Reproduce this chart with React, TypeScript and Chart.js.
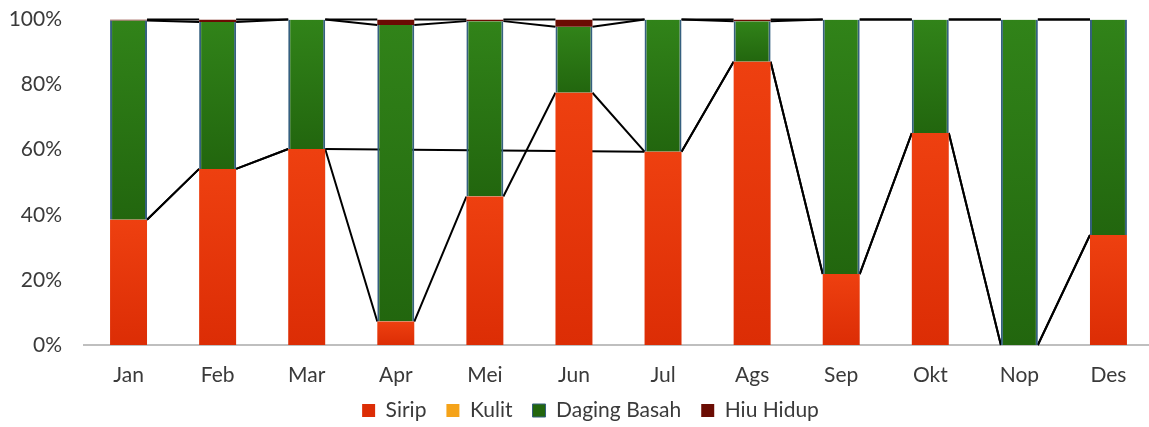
import React, { useEffect, useRef } from 'react';
import { Chart, registerables } from 'chart.js';

Chart.register(...registerables);

const months = ['Jan', 'Feb', 'Mar', 'Apr', 'Mei', 'Jun', 'Jul', 'Ags', 'Sep', 'Okt', 'Nop', 'Des'];
const sirip = [38.5, 54.1, 60.2, 7.2, 45.6, 77.5, 59.4, 87.0, 21.8, 65.1, 0, 33.8];
const kulit: (number | null)[] = [0, 0, 0, null, null, null, 0, 0, 0, 0, 0, 0];
const dagingBasah = [61.2, 45.1, 39.8, 91.1, 53.9, 20.3, 40.6, 12.5, 78.2, 34.9, 100, 66.2];
const hiuHidup = [0.3, 0.8, 0, 1.7, 0.5, 2.2, 0, 0.5, 0, 0, 0, 0];
const yTicks = [0, 20, 40, 60, 80, 100];

const FONT = 'Lato, "Noto Sans", sans-serif';
const TEXT = '#3A3A3A';

function segGradient(c: any, top: string, bottom: string) {
  const chart = c.chart;
  if (!chart.chartArea || c.type !== 'data') return top;
  const ys = chart.scales.y;
  const i = c.dataIndex;
  const k = c.datasetIndex;
  let start = 0;
  for (let j = 0; j < k; j++) start += (chart.data.datasets[j].data[i] as number) ?? 0;
  const v = (chart.data.datasets[k].data[i] as number) ?? 0;
  const yTop = ys.getPixelForValue(start + v);
  const yBot = ys.getPixelForValue(start);
  if (!isFinite(yTop) || !isFinite(yBot) || yBot - yTop < 1) return top;
  const g = chart.ctx.createLinearGradient(0, yTop, 0, yBot);
  g.addColorStop(0, top);
  g.addColorStop(1, bottom);
  return g;
}

const seriesLines = {
  id: 'seriesLines',
  beforeDatasetsDraw(chart: any) {
    const ctx = chart.ctx;
    const ys = chart.scales.y;
    const ds = chart.data.datasets;
    ctx.save();
    ctx.strokeStyle = '#000';
    ctx.lineWidth = 2;
    for (let k = 0; k < ds.length; k++) {
      const meta = chart.getDatasetMeta(k);
      const pts: { cum: number; x: number; w: number }[] = [];
      for (let i = 0; i < months.length; i++) {
        if (ds[k].data[i] === null || ds[k].data[i] === undefined) continue;
        let cum = 0;
        for (let j = 0; j <= k; j++) cum += (ds[j].data[i] as number) ?? 0;
        const el = meta.data[i];
        if (!el) continue;
        const p = el.getProps(['x', 'width'], true);
        pts.push({ cum, x: p.x, w: p.width });
      }
      ctx.beginPath();
      for (let p = 0; p < pts.length - 1; p++) {
        const a = pts[p];
        const b = pts[p + 1];
        ctx.moveTo(a.x + a.w / 2, ys.getPixelForValue(a.cum));
        ctx.lineTo(b.x - b.w / 2, ys.getPixelForValue(b.cum));
      }
      ctx.stroke();
    }
    ctx.restore();
  },
};

export default function App() {
  const ref = useRef<HTMLCanvasElement | null>(null);

  useEffect(() => {
    if (!ref.current) return;
    const chart = new Chart(ref.current, {
      type: 'bar',
      data: {
        labels: months,
        datasets: [
          {
            label: 'Sirip',
            data: sirip,
            backgroundColor: (c: any) => segGradient(c, '#EE4010', '#DC2D05'),
            borderWidth: 0,
          },
          {
            label: 'Kulit',
            data: kulit,
            backgroundColor: '#F5A319',
            borderWidth: 0,
          },
          {
            label: 'Daging Basah',
            data: dagingBasah,
            backgroundColor: (c: any) => segGradient(c, '#318319', '#22660E'),
            borderColor: '#35607F',
            borderWidth: { left: 2, right: 2, top: 0, bottom: 0 },
          },
          {
            label: 'Hiu Hidup',
            data: hiuHidup,
            backgroundColor: '#6B0C03',
            borderWidth: 0,
          },
        ],
      },
      options: {
        animation: false,
        responsive: false,
        devicePixelRatio: 1,
        layout: { padding: { left: 28, right: 27, top: 19.5, bottom: 0 } },
        datasets: {
          bar: { categoryPercentage: 1, barPercentage: 0.415 },
        },
        plugins: {
          legend: {
            position: 'bottom',
            labels: {
              font: { family: FONT, size: 21 },
              color: TEXT,
              boxWidth: 13,
              boxHeight: 13,
              padding: 20,
            },
          },
          tooltip: { enabled: false },
        },
        scales: {
          x: {
            stacked: true,
            grid: { display: false, drawTicks: false },
            border: { display: true, color: '#BFBFBF', width: 2 },
            ticks: { font: { family: FONT, size: 21 }, color: TEXT, padding: 18 },
            afterFit: (s: any) => {
              s.height = 35;
              s._computeLabelArea = () => undefined;
            },
          },
          y: {
            stacked: true,
            min: 0,
            max: 100,
            afterBuildTicks: (s: any) => {
              s.ticks = yTicks.map((v) => ({ value: v }));
            },
            grid: { display: false, drawTicks: false },
            border: { display: false },
            ticks: {
              font: { family: FONT, size: 21 },
              color: TEXT,
              padding: 22,
              callback: (v: any) => v + '%',
            },
            afterFit: (s: any) => {
              s.width = 56;
              s.paddingTop = 0;
              s.paddingBottom = 0;
              s._computeLabelArea = () => undefined;
            },
          },
        },
      },
      plugins: [seriesLines],
    });
    return () => chart.destroy();
  }, []);

  return (
    <div style={{ position: 'absolute', left: 0, top: 0, width: 1149, height: 427, overflow: 'hidden', background: '#fff' }}>
      <canvas ref={ref} width={1180} height={431} style={{ display: 'block', width: 1180, height: 431 }} />
    </div>
  );
}
